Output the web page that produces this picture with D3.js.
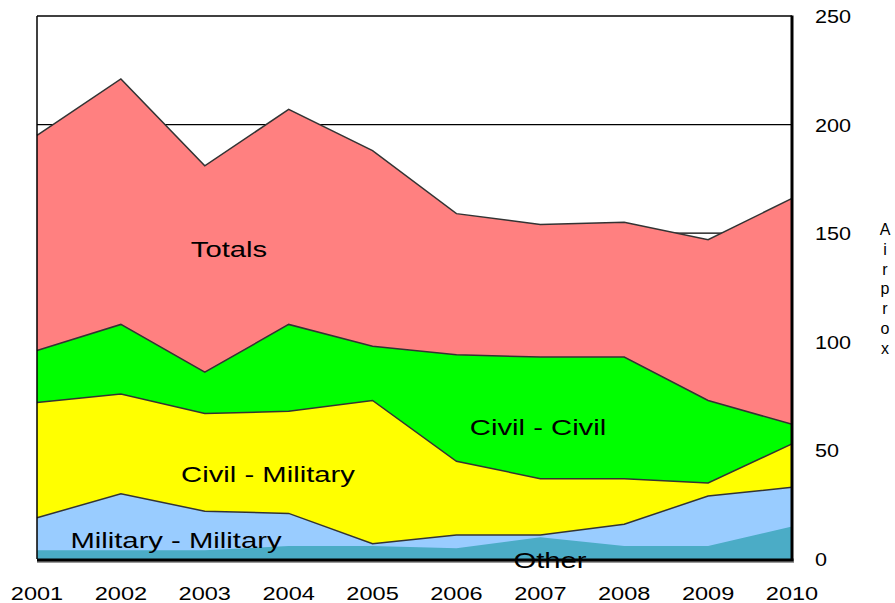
<!DOCTYPE html>
<html>
<head>
<meta charset="utf-8">
<script src="https://cdn.jsdelivr.net/npm/d3@7"></script>
<style>
  body { margin: 0; background: #fff; }
  text { font-family: "Liberation Sans", Arial, sans-serif; fill: #000; }
</style>
</head>
<body>
<div id="chart"></div>
<script>
// airprox counts per year
var years = ['2001', '2002', '2003', '2004', '2005', '2006', '2007', '2008', '2009', '2010'];
var totals = [195, 221, 181, 207, 188, 159, 154, 155, 147, 166];
var other = [4, 4, 4, 6, 6, 5, 10, 6, 6, 15];
var milMil = [15, 26, 18, 15, 1, 6, 1, 10, 23, 18];
var civMil = [53, 46, 45, 47, 66, 34, 26, 21, 6, 20];
var civCiv = [24, 32, 19, 40, 25, 49, 56, 56, 38, 9];
var yTicks = [0, 50, 100, 150, 200, 250];
var axisTitle = 'Airprox';

function drawChart() {
  var svgWidth = 895, svgHeight = 603;
  // plot box (note: "top" is a reserved window prop, so use plot* names)
  var plotLeft = 37, plotRight = 792, plotTop = 16, plotBottom = 559;

  var svg = d3.select('#chart').append('svg')
    .attr('width', svgWidth)
    .attr('height', svgHeight);

  var x = d3.scalePoint().domain(years).range([plotLeft, plotRight]);
  var y = d3.scaleLinear().domain([0, 250]).range([plotBottom, plotTop]);

  // gridlines behind the areas
  svg.append('g').selectAll('line')
    .data(yTicks.filter(d => d > 0 && d < 250))
    .enter().append('line')
    .attr('x1', plotLeft).attr('x2', plotRight)
    .attr('y1', d => y(d)).attr('y2', d => y(d))
    .attr('stroke', '#000').attr('stroke-width', 1.3);

  // stacked series (bottom first)
  var rows = years.map(function(yr, i) {
    return { year: yr, other: other[i], milMil: milMil[i], civMil: civMil[i], civCiv: civCiv[i] };
  });
  var series = d3.stack().keys(['other', 'milMil', 'civMil', 'civCiv'])(rows);
  var colors = { other: '#4BACC6', milMil: '#99CCFF', civMil: '#FFFF00', civCiv: '#00FF00' };

  // totals area from zero
  svg.append('path')
    .datum(totals)
    .attr('d', d3.area().x((d, i) => x(years[i])).y0(y(0)).y1(d => y(d)))
    .attr('fill', '#FF8080');
  svg.append('path')
    .datum(totals)
    .attr('d', d3.line().x((d, i) => x(years[i])).y(d => y(d)))
    .attr('fill', 'none')
    .attr('stroke', '#333')
    .attr('stroke-width', 1.5);

  var fillArea = d3.area()
    .x(d => x(d.data.year))
    .y0(y(0))
    .y1(d => y(d[1]));
  var topLine = d3.line()
    .x(d => x(d.data.year))
    .y(d => y(d[1]));

  // draw from top layer down so each top edge stays clean
  series.slice().reverse().forEach(function(s) {
    svg.append('path')
      .attr('d', fillArea(s))
      .attr('fill', colors[s.key]);
    if (s.key !== 'other') {
      svg.append('path')
        .attr('d', topLine(s))
        .attr('fill', 'none')
        .attr('stroke', '#333')
        .attr('stroke-width', 1.5);
    }
  });

  // frame
  svg.append('line').attr('x1', plotLeft).attr('x2', plotRight).attr('y1', plotTop).attr('y2', plotTop)
    .attr('stroke', '#000').attr('stroke-width', 1.5);
  svg.append('line').attr('x1', plotLeft).attr('x2', plotLeft).attr('y1', plotTop).attr('y2', plotBottom)
    .attr('stroke', '#000').attr('stroke-width', 1.5);
  svg.append('line').attr('x1', plotLeft).attr('x2', plotRight + 2).attr('y1', plotBottom + 3).attr('y2', plotBottom + 3)
    .attr('stroke', '#999').attr('stroke-width', 2);
  svg.append('line').attr('x1', plotLeft).attr('x2', plotRight + 1.5).attr('y1', plotBottom + 1).attr('y2', plotBottom + 1)
    .attr('stroke', '#000').attr('stroke-width', 3);
  svg.append('line').attr('x1', plotRight).attr('x2', plotRight).attr('y1', plotTop - 0.5).attr('y2', plotBottom + 2)
    .attr('stroke', '#000').attr('stroke-width', 3);

  // text in the original is stretched sideways
  function stretchedText(g, tx, ty, str, size, sx, anchor) {
    return g.append('text')
      .attr('transform', `translate(${tx},${ty}) scale(${sx},1)`)
      .attr('text-anchor', anchor || 'middle')
      .style('font-size', size + 'px')
      .text(str);
  }

  // x tick labels
  var xg = svg.append('g');
  years.forEach(function(yr) {
    stretchedText(xg, x(yr), 600, yr, 19, 1.24);
  });

  // y tick labels on the right
  var yg = svg.append('g');
  yTicks.forEach(function(t) {
    stretchedText(yg, 815, y(t) + 7, String(t), 18, 1.2, 'start');
  });

  // vertical axis title, one letter per line
  svg.append('g').selectAll('text')
    .data(axisTitle.split(''))
    .enter().append('text')
    .attr('x', 885)
    .attr('y', (d, i) => 235 + i * 19.8)
    .attr('text-anchor', 'middle')
    .style('font-size', '16px')
    .text(d => d);

  // series labels
  var lg = svg.append('g');
  stretchedText(lg, 229, 257, 'Totals', 22, 1.33);
  stretchedText(lg, 538, 435, 'Civil - Civil', 22, 1.33);
  stretchedText(lg, 268, 482, 'Civil - Military', 22, 1.33);
  stretchedText(lg, 176, 548, 'Military - Military', 22, 1.33);
  stretchedText(lg, 550, 568, 'Other', 22, 1.33);
}

drawChart();
</script>
</body>
</html>
